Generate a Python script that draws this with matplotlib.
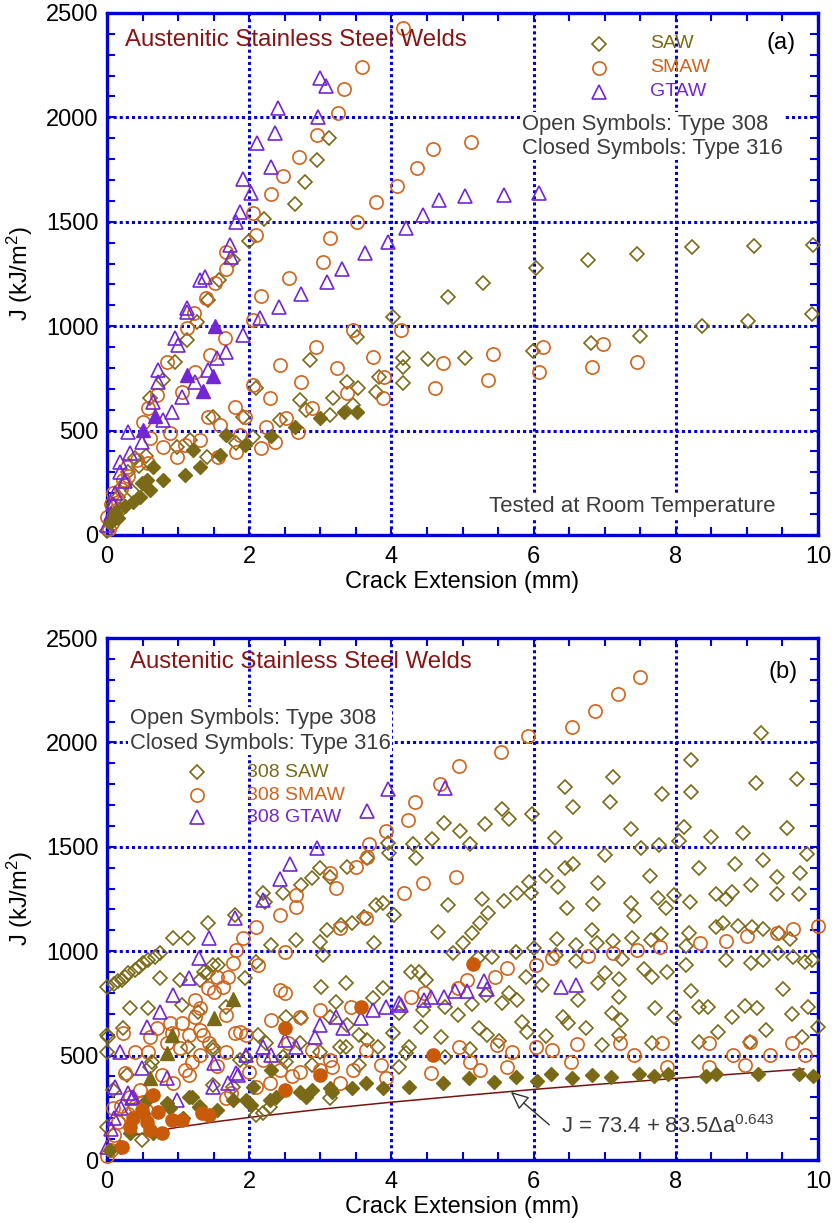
"""J-R curves for austenitic stainless steel welds, two panels"""
import numpy as np
import matplotlib
matplotlib.use("Agg")
import matplotlib.pyplot as plt

plt.rcParams['font.family'] = ['Liberation Sans', 'DejaVu Sans']
plt.rcParams['mathtext.default'] = 'regular'

# ---------------- panel (a) data: (crack extension mm, J kJ/m2) ----------------
a_saw308 = [(3.12, 1899), (2.95, 1796), (2.79, 1692), (2.65, 1583), (2.21, 1511), (2.00, 1408),
            (1.77, 1317), (1.57, 1221), (1.42, 1127), (1.27, 1022), (1.12, 934), (0.96, 830),
            (0.79, 742), (0.60, 654), (4.02, 1045), (3.51, 950), (4.79, 1141), (5.29, 1205),
            (6.03, 1277), (6.76, 1317), (7.45, 1345), (8.23, 1381), (9.10, 1384), (9.93, 1389),
            (4.16, 846), (4.16, 806), (4.16, 726), (4.51, 841), (5.03, 846), (5.99, 883),
            (6.80, 921), (7.49, 955), (8.37, 1002), (9.01, 1026), (9.92, 1058),
            (1.49, 567), (1.91, 567), (2.10, 702), (2.85, 838), (2.71, 647), (3.37, 734),
            (3.53, 702), (3.18, 654), (3.83, 758), (3.79, 686), (3.46, 622), (3.13, 575),
            (2.80, 599), (2.43, 551), (2.05, 471), (1.82, 439), (1.40, 375), (1.17, 455),
            (0.98, 423), (0.39, 367), (0.09, 144), (0.05, 60), (0.15, 180), (0.25, 250),
            (0.30, 300), (0.45, 330), (0.55, 380), (0.20, 120), (0.00, 20), (0.10, 90), (0.35, 210)]
a_saw316 = [(3.51, 591), (3.34, 591), (2.99, 559), (2.64, 515), (2.31, 474), (1.94, 431),
            (1.68, 479), (1.59, 383), (1.31, 327), (1.10, 287), (0.79, 263), (1.21, 407),
            (0.65, 327), (0.60, 216), (0.49, 248), (0.46, 184), (0.37, 160), (0.11, 112),
            (0.04, 56), (0.56, 263), (0.25, 140), (0.15, 80)]
a_smaw308 = [(3.58, 2243), (3.34, 2136), (3.25, 2019), (2.95, 1916), (2.70, 1809), (2.47, 1721),
             (2.30, 1633), (2.05, 1541), (2.09, 1437), (1.67, 1357), (1.68, 1272), (1.52, 1209),
             (1.39, 1134), (1.22, 1061), (1.12, 990), (1.66, 942), (2.05, 1030), (2.16, 1145),
             (2.56, 1232), (3.13, 1421), (3.04, 1306), (3.52, 1501), (3.79, 1593), (4.08, 1671),
             (3.46, 982), (4.36, 1759), (4.58, 1847), (5.12, 1884), (4.16, 2427),
             (2.94, 902), (2.43, 814), (2.73, 734), (3.23, 798), (3.74, 854), (3.90, 758),
             (3.88, 654), (3.37, 678), (2.88, 606), (2.69, 495), (2.29, 654), (2.05, 718),
             (1.80, 615), (1.94, 567), (1.42, 567), (1.45, 862), (1.24, 782), (1.05, 686),
             (1.59, 527), (1.87, 479), (2.17, 415), (2.36, 447), (2.52, 559), (2.24, 519),
             (1.56, 375), (1.82, 399), (1.31, 455), (1.10, 431), (0.98, 375), (0.79, 423),
             (0.88, 487), (0.60, 463), (0.51, 543), (0.58, 606), (0.70, 670), (0.84, 830),
             (0.58, 343), (0.42, 359), (0.28, 327), (0.23, 263), (0.09, 200), (0.16, 160),
             (0.00, 88), (0.07, 56), (4.14, 982), (4.72, 822), (4.61, 702), (5.43, 867),
             (5.36, 742), (6.13, 902), (6.08, 782), (6.98, 913), (6.82, 803), (7.45, 830),
             (0.03, 30), (0.12, 120), (0.20, 220), (0.30, 280), (0.05, 150)]
a_gtaw308 = [(2.99, 2187), (3.08, 2150), (2.40, 2047), (2.97, 2000), (2.36, 1927), (2.11, 1876),
             (2.31, 1764), (1.91, 1703), (2.03, 1637), (1.87, 1549), (1.82, 1501), (1.73, 1389),
             (1.74, 1333), (1.38, 1237), (1.31, 1221), (1.13, 1086), (1.12, 1070), (2.15, 1037),
             (2.42, 1090), (2.73, 1154), (3.09, 1213), (3.30, 1272), (3.63, 1352), (3.95, 1405),
             (1.91, 958), (0.95, 945), (4.21, 1469), (4.44, 1533), (4.67, 1604), (5.04, 1624),
             (5.59, 1628), (6.07, 1637), (0.72, 790), (1.00, 910), (1.68, 878), (1.54, 846),
             (1.42, 790), (1.24, 734), (1.05, 662), (0.91, 590), (0.79, 551), (0.72, 734),
             (0.65, 638), (0.30, 495), (0.49, 447), (0.18, 351), (0.18, 300), (0.11, 200),
             (0.32, 391), (0.05, 100), (0.00, 50), (0.08, 150), (0.25, 260)]
a_gtaw316 = [(1.52, 1003), (1.12, 766), (1.49, 760), (1.35, 689), (0.68, 571), (0.50, 503)]

# ---------------- panel (b) data ----------------
b_saw308 = [(8.22, 1916), (9.13, 1804), (9.71, 1823), (7.12, 1836), (6.44, 1785), (7.81, 1753),
            (8.21, 1764), (7.08, 1716), (6.56, 1692), (5.56, 1680), (5.65, 1632), (5.98, 1657),
            (4.74, 1612), (4.97, 1577), (5.32, 1609), (5.10, 1513), (7.37, 1584), (8.12, 1596),
            (8.49, 1546), (8.95, 1568), (9.56, 1588), (6.30, 1541), (7.51, 1493), (7.77, 1509),
            (8.04, 1529), (7.01, 1461), (9.84, 1466), (8.32, 1397), (8.83, 1418), (9.23, 1437),
            (9.74, 1376), (9.42, 1354), (7.64, 1360), (6.56, 1418), (6.44, 1397), (6.18, 1360),
            (6.90, 1328), (6.34, 1306), (5.93, 1333), (5.96, 1281), (5.77, 1281), (5.58, 1242),
            (5.27, 1249), (4.80, 1221), (5.36, 1185), (6.47, 1205), (6.83, 1226), (7.37, 1229),
            (7.75, 1253), (7.86, 1205), (7.97, 1269), (8.20, 1237), (8.56, 1274), (8.70, 1249),
            (8.79, 1286), (9.06, 1317), (9.42, 1274), (9.73, 1274), (7.41, 1169), (5.25, 1134),
            (5.13, 1089), (5.00, 1041), (4.86, 993), (6.82, 1101), (6.89, 1041), (6.59, 1030),
            (6.33, 1057), (7.12, 1050), (7.38, 1062), (7.65, 1054), (7.79, 1082), (8.18, 1089),
            (8.14, 1025), (8.56, 1114), (8.67, 1137), (8.88, 1121), (9.07, 1118), (9.23, 1105),
            (9.45, 1086), (9.60, 1057), (5.75, 998), (5.42, 971), (5.22, 966), (6.00, 1014),
            (6.32, 982), (6.60, 955), (7.25, 961), (6.90, 849), (7.00, 897), (7.20, 865),
            (7.55, 913), (7.66, 878), (7.87, 902), (8.14, 934), (8.70, 958), (9.06, 942),
            (9.23, 958), (9.44, 993), (9.65, 971), (9.81, 950), (9.92, 958), (5.89, 878),
            (5.65, 802), (5.77, 766), (5.55, 753), (5.33, 790), (5.14, 747), (4.93, 694),
            (4.76, 734), (6.62, 766), (6.12, 838), (7.20, 779), (7.71, 726), (8.21, 811),
            (8.32, 734), (8.45, 731), (8.79, 686), (8.97, 738), (9.14, 726), (9.51, 818),
            (9.63, 699), (9.86, 734), (10.0, 638), (6.42, 686), (6.49, 655), (6.73, 631),
            (7.10, 706), (7.23, 670), (7.97, 686), (8.59, 615), (9.27, 623), (9.77, 591),
            (5.84, 663), (5.91, 615), (6.18, 594), (5.23, 631), (5.35, 599), (5.51, 572),
            (5.10, 530), (6.96, 551), (7.20, 599), (7.66, 562), (8.32, 567), (9.04, 567),
            (4.76, 495), (4.30, 1513), (4.35, 1445), (4.57, 1537), (9.20, 2043), (4.44, 718),
            (4.65, 1093), (3.97, 1469), (3.95, 1517), (3.66, 1445), (3.38, 1405), (3.13, 1357),
            (2.99, 1397), (2.89, 1349), (2.73, 1317), (2.47, 1277), (2.19, 1277), (2.22, 1237),
            (1.80, 1173), (1.42, 1134), (1.14, 1062), (0.93, 1062), (0.74, 990), (0.67, 974),
            (0.58, 958), (0.51, 942), (0.39, 910), (0.30, 894), (0.21, 862), (0.00, 830),
            (0.10, 845), (0.15, 855), (0.25, 875), (0.45, 925), (0.74, 870), (0.32, 726),
            (0.58, 726), (0.23, 631), (0.00, 599), (0.00, 519), (1.02, 862), (1.42, 894),
            (1.56, 934), (1.94, 870), (1.05, 742), (2.10, 950), (2.31, 1030), (2.66, 1054),
            (3.04, 982), (2.99, 1046), (3.10, 1101), (3.29, 1125), (3.45, 1134), (3.62, 1165),
            (3.78, 1221), (3.88, 1229), (4.04, 1173), (3.76, 1038), (4.27, 902), (3.01, 830),
            (3.36, 846), (3.88, 822), (3.74, 774), (3.22, 758), (4.11, 702), (4.39, 902),
            (4.48, 862), (4.41, 638), (4.70, 590), (4.25, 543), (4.02, 607), (3.55, 599),
            (3.38, 647), (3.13, 686), (2.73, 679), (2.52, 686), (2.12, 599), (1.68, 734),
            (1.31, 862), (1.37, 902), (1.49, 934), (1.28, 710), (1.49, 543), (1.14, 543),
            (0.60, 447), (0.63, 471), (0.28, 407), (0.02, 591), (0.00, 160), (1.96, 487),
            (1.87, 479), (1.49, 527), (2.24, 559), (2.47, 495), (2.52, 471), (2.71, 559),
            (2.99, 519), (2.89, 455), (3.27, 543), (3.36, 543), (3.66, 575), (4.20, 511),
            (3.55, 455), (3.81, 543), (4.11, 447), (1.77, 351), (1.49, 359), (1.31, 255),
            (0.49, 96), (0.09, 335), (2.10, 216), (2.19, 224), (2.29, 255), (3.13, 295)]
b_saw316 = [(9.93, 402), (9.73, 412), (9.16, 412), (8.57, 412), (8.43, 402), (7.89, 412),
            (7.70, 402), (7.48, 412), (7.09, 396), (6.82, 407), (6.54, 391), (6.25, 412),
            (6.05, 380), (5.75, 396), (5.44, 375), (5.09, 391), (4.73, 370), (4.25, 351),
            (3.88, 343), (3.45, 343), (3.17, 327), (2.80, 303), (2.31, 431), (2.29, 287),
            (2.03, 263), (1.54, 239), (1.16, 303), (0.88, 248), (0.65, 128), (0.18, 64),
            (0.04, 48), (1.07, 200), (1.96, 287), (3.13, 343), (1.19, 303), (2.05, 351),
            (2.38, 303), (2.71, 327), (2.89, 335), (3.64, 367), (1.77, 287), (1.30, 255),
            (0.84, 271), (0.51, 224), (0.32, 128), (0.56, 287)]
b_smaw308 = [(7.49, 2312), (7.19, 2232), (6.87, 2152), (6.54, 2075), (5.92, 2032), (5.54, 1956),
             (4.95, 1889), (4.69, 1801), (4.33, 1716), (4.23, 1628), (3.92, 1577), (3.69, 1513),
             (3.66, 1450), (3.50, 1405), (3.22, 1301), (3.13, 1373), (2.66, 1269), (2.66, 1210),
             (4.18, 1277), (2.43, 1173), (4.44, 1325), (4.91, 1357), (2.10, 1118), (1.91, 1062),
             (1.82, 1006), (1.77, 942), (2.12, 934), (2.50, 998), (1.70, 878), (1.54, 878),
             (1.42, 822), (1.51, 806), (1.63, 830), (1.24, 766), (1.31, 726), (1.24, 686),
             (1.05, 654), (0.88, 654), (1.31, 623), (1.35, 599), (1.68, 694), (1.87, 615),
             (1.96, 599), (1.80, 607), (0.60, 591), (0.58, 519), (0.25, 415), (0.09, 248),
             (0.32, 303), (0.46, 335), (1.09, 431), (1.31, 503), (1.68, 519), (2.43, 814),
             (2.50, 798), (2.71, 686), (2.31, 670), (2.99, 718), (3.27, 1110), (3.43, 734),
             (3.64, 1157), (4.27, 782), (4.46, 798), (2.71, 423), (3.17, 447), (3.46, 431),
             (3.64, 527), (3.85, 455), (3.92, 391), (3.27, 367), (3.13, 479), (2.43, 431),
             (2.29, 367), (2.10, 351), (1.75, 319), (1.68, 295), (1.16, 407), (0.93, 367),
             (0.91, 607), (0.70, 631), (0.23, 607), (0.39, 519), (0.77, 407), (1.02, 535),
             (1.44, 559), (2.54, 559), (2.89, 527), (4.93, 822), (5.07, 862), (5.46, 878),
             (5.63, 918), (6.03, 934), (6.26, 966), (6.77, 977), (7.12, 990), (7.45, 1006),
             (7.78, 1022), (8.34, 1038), (8.71, 1051), (9.00, 1073), (9.42, 1086), (9.65, 1105),
             (10.0, 1121), (4.55, 415), (4.95, 543), (5.11, 471), (5.25, 431), (5.49, 551),
             (5.63, 447), (5.70, 519), (6.03, 543), (6.26, 527), (6.52, 471), (6.61, 556),
             (7.22, 559), (7.41, 503), (7.80, 559), (7.87, 447), (8.46, 559), (8.46, 447),
             (8.81, 503), (8.97, 455), (9.32, 503), (9.63, 559), (9.81, 503), (9.04, 567),
             (0.05, 50), (0.10, 120), (0.15, 180), (0.20, 260), (0.00, 20), (0.30, 220),
             (0.40, 260), (0.50, 280), (0.55, 240), (0.85, 560), (1.15, 600), (1.20, 470),
             (1.55, 450), (2.00, 420), (2.20, 480), (2.60, 400), (3.00, 430)]
b_smaw316 = [(3.57, 734), (2.50, 631), (4.58, 503), (2.99, 407), (2.50, 335), (5.15, 939),
             (0.65, 311), (0.49, 239), (0.72, 231), (0.56, 183), (0.37, 200), (0.32, 160),
             (0.60, 144), (0.77, 128), (0.91, 192), (1.05, 192), (1.33, 224), (1.44, 216),
             (0.21, 64)]
b_gtaw308 = [(3.95, 1776), (3.66, 1673), (2.95, 1496), (2.58, 1416), (2.43, 1345), (2.19, 1245),
             (1.80, 1158), (4.76, 1780), (1.44, 1062), (1.30, 966), (1.16, 870), (0.93, 790),
             (0.74, 710), (0.56, 638), (0.18, 519), (0.11, 351), (0.35, 295), (0.49, 439),
             (0.84, 391), (0.98, 287), (1.49, 351), (1.70, 367), (1.51, 463), (1.82, 415),
             (1.96, 503), (2.19, 543), (2.31, 503), (2.50, 575), (2.66, 543), (2.92, 591),
             (2.99, 647), (3.22, 686), (3.32, 631), (3.57, 679), (3.74, 718), (3.92, 734),
             (4.11, 750), (4.46, 766), (4.55, 782), (4.74, 779), (4.90, 811), (5.07, 811),
             (5.30, 855), (5.34, 818), (6.38, 827), (6.59, 838), (1.84, 407), (0.37, 303),
             (4.13, 742), (0.05, 150), (0.10, 200), (0.20, 250), (0.30, 320), (0.00, 60)]
b_gtaw316 = [(1.77, 770), (1.51, 679), (0.91, 599), (0.84, 511), (0.60, 391)]

# fitted lower bound J = 73.4 + 83.5 da^0.643
fit_x = [0.3, 0.5, 1, 1.5, 2, 3, 4, 5, 6, 7, 8, 9, 9.8]
fit_j = [112, 127, 157, 182, 204, 243, 277, 308, 338, 365, 391, 416, 436]

SAW_C = '#7a6a17'
SMAW_C = '#d2631a'
SMAW_FILL = '#c85a0a'
GTAW_C = '#7226d6'
TITLE_C = '#8a1414'
GRAY = '#3c3c3c'
BLUE = '#0000dd'

fig = plt.figure(figsize=(8.36, 12.23), dpi=100)
ax1 = fig.add_axes([0.128, 0.5626, 0.8505, 0.4268])
ax2 = fig.add_axes([0.128, 0.0515, 0.8505, 0.4268])


def open_pts(ax, pts, marker, color, ms):
    p = np.array(pts)
    ax.plot(p[:, 0], p[:, 1], linestyle='none', marker=marker, ms=ms, mfc='none',
            mec=color, mew=1.2, clip_on=False, zorder=3)


def closed_pts(ax, pts, marker, color, ms):
    p = np.array(pts)
    ax.plot(p[:, 0], p[:, 1], linestyle='none', marker=marker, ms=ms, mfc=color,
            mec=color, mew=1.0, clip_on=False, zorder=4)


def style_axes(ax):
    ax.set_xlim(0, 10)
    ax.set_ylim(0, 2500)
    ax.set_xticks([0, 2, 4, 6, 8, 10])
    ax.set_yticks([0, 500, 1000, 1500, 2000, 2500])
    ax.set_xticks(np.arange(0, 10.01, 0.5), minor=True)
    ax.set_yticks(np.arange(0, 2501, 100), minor=True)
    ax.grid(True, which='major', color=BLUE, linestyle=(0, (1, 1)), linewidth=2.2)
    ax.set_axisbelow(True)
    for s in ax.spines.values():
        s.set_color(BLUE)
        s.set_linewidth(2.4)
    ax.tick_params(which='both', direction='in', top=True, right=True, color=BLUE,
                   width=1.5, labelsize=17)
    ax.tick_params(which='major', length=6)
    ax.tick_params(which='minor', length=6)
    ax.tick_params(axis='x', pad=8)
    ax.tick_params(axis='y', pad=6)
    ax.set_xlabel('Crack Extension (mm)', fontsize=17, labelpad=2)
    ax.set_ylabel('J (kJ/m$^2$)', fontsize=17, labelpad=8)


for ax in (ax1, ax2):
    style_axes(ax)

# ---------- panel (a) ----------
open_pts(ax1, a_saw308, 'D', SAW_C, 6.8)
open_pts(ax1, a_smaw308, 'o', SMAW_C, 9.5)
open_pts(ax1, a_gtaw308, '^', GTAW_C, 10.5)
closed_pts(ax1, a_saw316, 'D', SAW_C, 6.8)
closed_pts(ax1, a_gtaw316, '^', GTAW_C, 10.5)

ax1.text(0.025, 0.948, 'Austenitic Stainless Steel Welds', transform=ax1.transAxes,
         fontsize=17.3, color=TITLE_C, va='center', ha='left')
ax1.text(0.969, 0.943, '(a)', transform=ax1.transAxes, fontsize=17, color='black',
         va='center', ha='right')
for fy, mk, col, ms, lab in [(0.941, 'D', SAW_C, 6.8, 'SAW'),
                             (0.895, 'o', SMAW_C, 9.5, 'SMAW'),
                             (0.849, '^', GTAW_C, 10.5, 'GTAW')]:
    ax1.plot([0.692], [fy], transform=ax1.transAxes, marker=mk, ms=ms, mfc='none',
             mec=col, mew=1.2, linestyle='none', clip_on=False)
    ax1.text(0.764, fy, lab, transform=ax1.transAxes, fontsize=14, color=col,
             va='center', ha='left')
ax1.text(0.584, 0.764, 'Open Symbols: Type 308\nClosed Symbols: Type 316',
         transform=ax1.transAxes, fontsize=15.8, color=GRAY, va='center', ha='left',
         linespacing=1.2, zorder=2,
         bbox=dict(facecolor='white', edgecolor='none', pad=1))
ax1.text(0.940, 0.054, 'Tested at Room Temperature', transform=ax1.transAxes,
         fontsize=16, color=GRAY, va='center', ha='right', zorder=2,
         bbox=dict(facecolor='white', edgecolor='none', pad=2))

# ---------- panel (b) ----------
ax2.plot(fit_x, fit_j, color='#7a1212', lw=1.1, zorder=2.5)
open_pts(ax2, b_saw308, 'D', SAW_C, 6.8)
open_pts(ax2, b_smaw308, 'o', SMAW_C, 9.5)
open_pts(ax2, b_gtaw308, '^', GTAW_C, 10.5)
closed_pts(ax2, b_saw316, 'D', SAW_C, 6.8)
closed_pts(ax2, b_gtaw316, '^', SAW_C, 10.5)
closed_pts(ax2, b_smaw316, 'o', SMAW_FILL, 9.5)

ax2.text(0.032, 0.954, 'Austenitic Stainless Steel Welds', transform=ax2.transAxes,
         fontsize=17.3, color=TITLE_C, va='center', ha='left')
ax2.text(0.972, 0.935, '(b)', transform=ax2.transAxes, fontsize=17, color='black',
         va='center', ha='right')
ax2.text(0.032, 0.822, 'Open Symbols: Type 308\nClosed Symbols: Type 316',
         transform=ax2.transAxes, fontsize=15.8, color=GRAY, va='center', ha='left',
         linespacing=1.2, zorder=2,
         bbox=dict(facecolor='white', edgecolor='none', pad=1))
for fy, mk, col, ms, lab in [(0.743, 'D', SAW_C, 6.8, '308 SAW'),
                             (0.699, 'o', SMAW_C, 9.5, '308 SMAW'),
                             (0.657, '^', GTAW_C, 10.5, '308 GTAW')]:
    ax2.plot([0.126], [fy], transform=ax2.transAxes, marker=mk, ms=ms, mfc='none',
             mec=col, mew=1.2, linestyle='none', clip_on=False)
    ax2.text(0.197, fy, lab, transform=ax2.transAxes, fontsize=14, color=col,
             va='center', ha='left')

ax2.annotate('', xy=(5.65, 335), xytext=(6.25, 160),
             arrowprops=dict(arrowstyle='-|>,head_length=1.1,head_width=0.5',
                             fc='white', ec='#333333', lw=1.0), zorder=5)
ax2.text(6.38, 158, 'J = 73.4 + 83.5\u0394a$^{0.643}$', fontsize=15.8, color=GRAY,
         va='center', ha='left', zorder=5)

fig.savefig('out.png', dpi=100)
